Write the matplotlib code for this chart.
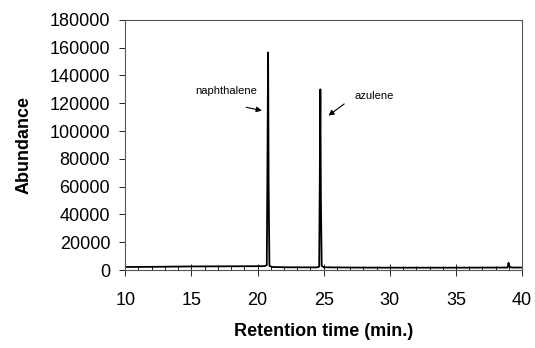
import matplotlib.pyplot as plt
from matplotlib.ticker import MultipleLocator

plt.rcParams['font.family'] = ['Liberation Sans', 'DejaVu Sans']

# chromatogram (retention time in min, abundance)
times = [10.0, 12.0, 15.0, 18.0, 20.5, 20.70, 20.76, 20.80, 20.84, 20.90, 21.1, 22.0,
         24.5, 24.66, 24.71, 24.75, 24.79, 24.85, 25.0, 27.0, 30.0, 35.0,
         38.9, 38.97, 39.02, 39.1, 39.3, 40.0]
abundance = [2200, 2300, 2600, 2700, 2800, 3500, 90000, 156500, 60000, 3000, 2200, 2000,
             1900, 2500, 70000, 130000, 50000, 3000, 2000, 1800, 1700, 1700,
             1800, 5200, 3000, 2000, 1800, 1800]

labels = ['naphthalene', 'azulene']
label_xy = [(17.6, 128900), (28.8, 124900)]
arrow_from = [(19.14, 117100), (26.55, 119500)]
arrow_to = [(20.33, 114700), (25.36, 111100)]

fig = plt.figure(figsize=(5.35, 3.48), dpi=100)
ax = fig.add_axes([0.234, 0.224, 0.742, 0.719])

ax.plot(times, abundance, color='black', linewidth=1.3)

for lab, txy, a0, a1 in zip(labels, label_xy, arrow_from, arrow_to):
    ax.text(txy[0], txy[1], lab, fontsize=8, ha='center', va='center')
    ax.annotate('', xy=a1, xytext=a0,
                arrowprops=dict(arrowstyle='-|>', color='black', lw=0.8,
                                mutation_scale=8, shrinkA=0, shrinkB=0))

ax.set_xlim(10, 40)
ax.set_ylim(0, 180000)
ax.xaxis.set_major_locator(MultipleLocator(5))
ax.xaxis.set_minor_locator(MultipleLocator(1))
ax.yaxis.set_major_locator(MultipleLocator(20000))

ax.tick_params(axis='x', which='major', direction='inout', length=8, labelsize=13, pad=11.5, width=0.6)
ax.tick_params(axis='x', which='minor', direction='in', length=3, width=0.6)
ax.tick_params(axis='y', direction='out', length=4.3, labelsize=13, pad=6.5, width=0.6)

for s in ax.spines.values():
    s.set_color('#555555')
    s.set_linewidth(0.8)

ax.set_xlabel('Retention time (min.)', fontsize=13, fontweight='bold', labelpad=10.5)
ax.set_ylabel('Abundance', fontsize=13, fontweight='bold', labelpad=12)

fig.savefig('out.png', dpi=100)
